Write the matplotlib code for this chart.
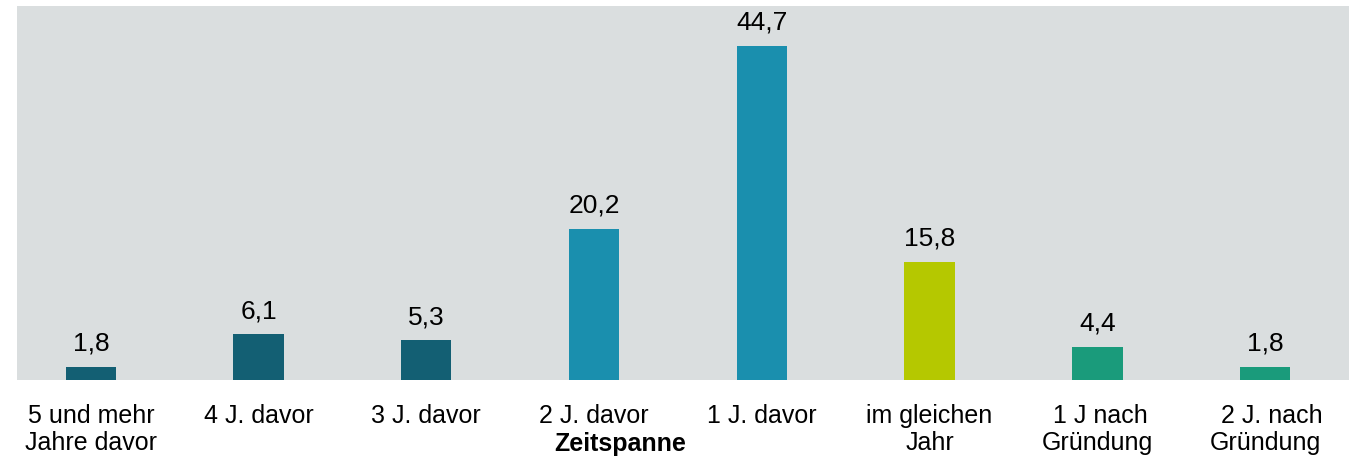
import matplotlib.pyplot as plt

plt.rcParams['font.family'] = ['Liberation Sans', 'DejaVu Sans']

kategorien = ['5 und mehr\nJahre davor', '4 J. davor', '3 J. davor', '2 J. davor',
              '1 J. davor', 'im gleichen\nJahr', ' 1 J nach\nGründung', '  2 J. nach\nGründung']
werte = [1.8, 6.1, 5.3, 20.2, 44.7, 15.8, 4.4, 1.8]
farben = ['#135f73', '#135f73', '#135f73', '#1a8fae', '#1a8fae', '#b5c800', '#1a9b7b', '#1a9b7b']

fig = plt.figure(figsize=(13.65, 4.61), dpi=100)
ax = fig.add_axes([17 / 1365, 1 - 380 / 461, (1349 - 17) / 1365, (380 - 6) / 461])
ax.set_facecolor('#dadedf')

x = list(range(len(werte)))
bars = ax.bar(x, werte, width=0.3, color=farben)
for b, v in zip(bars, werte):
    ax.text(b.get_x() + b.get_width() / 2, v + 1.5, f'{v:.1f}'.replace('.', ','),
            ha='center', va='bottom', fontsize=19)

ax.set_xlim(-0.44, 7.5)
ax.set_ylim(0, 50)
ax.set_yticks([])
ax.set_xticks(x)
ax.set_xticklabels(kategorien, fontsize=18, linespacing=1.2)
ax.tick_params(axis='x', length=0, pad=17)
for s in ax.spines.values():
    s.set_visible(False)

fig.text(620 / 1365, 1 - 451 / 461, 'Zeitspanne', ha='center', va='baseline',
         fontsize=18, fontweight='bold')

fig.savefig('out.png', dpi=100)
